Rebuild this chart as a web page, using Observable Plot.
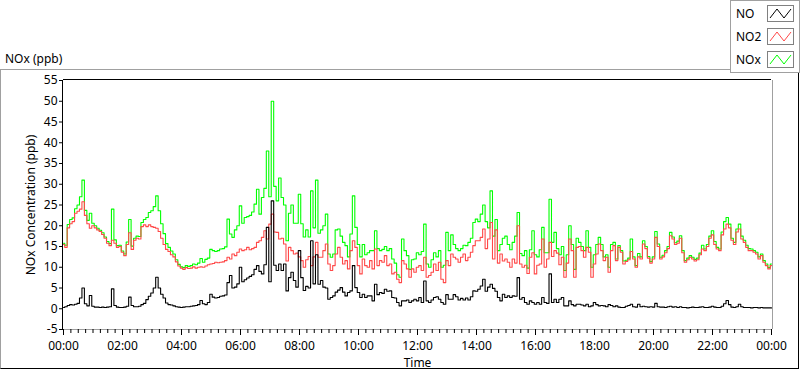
<!DOCTYPE html>
<html>
<head>
<meta charset="utf-8">
<script src="https://cdn.jsdelivr.net/npm/d3@7"></script>
<script src="https://cdn.jsdelivr.net/npm/@observablehq/plot@0.6"></script>
<style>
html,body{margin:0;padding:0;background:#fff;}
#wrap{position:relative;width:800px;height:369px;overflow:hidden;font-family:"Noto Sans",sans-serif;font-size:12px;color:#000;}
#panel{position:absolute;left:0;top:69px;width:799px;height:300px;box-sizing:border-box;border-top:1px solid #a0a0a0;border-left:1px solid #a0a0a0;border-right:1px solid #000;border-bottom:1px solid #000;}
#title{position:absolute;left:5px;top:51px;line-height:16px;white-space:nowrap;}
#legend{position:absolute;left:730px;top:0;width:70px;height:73px;box-sizing:border-box;border:1px solid #a0a0a0;background:#fff;z-index:2;}
.row{position:absolute;left:5px;width:60px;height:17px;}
.row span{position:absolute;left:0;top:0;line-height:17px;}
.row svg{position:absolute;left:31px;top:0;}
#chart{position:absolute;left:0;top:70px;z-index:1;}
</style>
</head>
<body>
<div id="wrap">
  <div id="panel"></div>
  <div id="title">NOx (ppb)</div>
  <div id="legend"></div>
  <div id="chart"></div>
</div>
<script>
// ---- data (5-minute readings, 00:00 to 24:00) ----
const startTime = new Date(2000, 0, 1, 0, 0);
const stepMinutes = 5;

const NO = [
0.3,0.5,0.8,1.0,0.9,1.1,1.3,2.6,5.0,1.2,
0.7,3.2,0.6,0.4,0.4,0.3,0.4,0.3,0.4,0.5,
4.8,0.8,0.4,0.3,0.3,0.4,0.6,2.8,0.8,0.5,
0.5,0.6,1.0,1.3,2.2,3.0,3.8,5.0,7.6,5.0,
3.5,2.6,1.4,1.0,0.9,0.7,0.5,0.4,0.3,0.4,
0.5,0.5,0.6,0.7,0.8,1.0,2.0,1.2,1.0,1.5,
3.5,2.8,2.6,2.7,3.0,3.1,3.3,6.3,8.0,5.0,
5.2,6.0,10.0,6.5,7.0,7.4,7.8,8.2,9.5,10.4,
9.0,8.4,10.6,19.6,6.5,26.0,10.5,9.2,10.8,9.2,
10.8,4.3,7.5,8.8,6.8,5.2,14.0,7.5,4.4,5.4,
5.0,16.4,6.0,13.0,5.9,6.8,5.2,5.0,2.3,2.7,
3.1,4.0,4.5,5.1,4.0,3.1,3.9,4.3,10.4,5.1,
3.9,2.7,3.5,2.7,3.1,3.1,1.9,5.9,3.4,3.9,
3.7,4.7,4.2,4.3,2.7,2.6,1.5,0.7,1.9,1.9,
2.1,1.5,1.9,2.3,1.9,2.7,1.5,6.7,1.9,1.5,
2.1,2.7,2.9,2.3,1.5,1.1,3.4,2.3,2.3,3.4,
2.9,2.1,2.5,2.1,2.6,2.1,2.9,4.3,4.2,4.7,
5.5,7.1,4.2,5.2,5.9,4.9,4.2,2.7,1.9,3.5,
2.7,3.1,2.7,3.1,3.0,7.5,2.3,2.7,1.5,1.1,
1.9,1.5,1.1,1.5,1.1,2.7,1.5,1.3,8.4,1.5,
2.3,1.5,2.3,2.7,0.7,0.7,1.9,1.0,0.7,1.1,
1.1,0.9,0.7,1.1,0.5,0.7,1.5,1.0,0.7,0.8,
0.7,0.5,1.0,0.8,0.5,0.7,0.4,0.3,0.3,0.6,
0.8,1.1,0.5,0.4,1.1,0.5,0.6,0.5,0.4,0.5,
0.4,1.3,0.5,0.4,0.4,0.3,0.5,0.6,0.4,0.5,
0.3,0.5,0.3,0.3,0.2,0.3,0.4,0.3,0.3,0.4,
0.5,0.3,0.3,0.4,0.6,0.4,0.3,0.3,0.6,1.2,
2.0,1.0,0.4,0.3,0.5,1.1,0.5,0.3,0.3,0.3,
0.2,0.3,0.3,0.2,0.3,0.2,0.2,0.2,0.2
];

const NO2 = [
15.5,14.8,19.5,20.5,21.0,23.0,23.5,24.0,25.8,22.5,
20.5,19.4,20.0,19.5,19.0,18.6,17.9,17.0,15.8,15.2,
16.5,15.8,14.8,15.0,13.6,12.8,15.5,18.3,14.3,16.5,
17.0,16.8,19.8,20.2,19.8,20.2,19.8,19.6,19.4,18.6,
17.0,15.5,14.3,13.8,13.0,12.5,11.3,10.3,9.8,9.5,
9.9,9.7,9.8,10.1,9.8,10.0,10.1,10.0,10.3,10.6,
10.8,10.9,11.2,11.1,11.2,11.3,11.6,12.4,12.0,13.2,
12.8,13.6,14.4,14.0,14.2,14.8,14.2,14.5,14.8,16.0,
16.4,17.2,18.8,16.8,20.4,22.8,18.5,18.4,16.8,17.0,
15.6,11.5,14.8,14.0,13.2,13.4,12.5,11.6,10.0,11.8,
12.6,10.4,12.5,16.0,12.4,12.4,14.0,15.6,10.8,9.2,
10.4,13.2,14.8,12.4,10.8,11.6,9.6,14.0,16.4,14.8,
10.4,8.4,12.0,10.4,10.0,11.6,9.6,14.4,10.4,11.6,
11.2,12.8,10.4,10.8,8.4,8.8,7.1,6.3,11.6,10.8,
9.6,7.6,9.6,8.8,10.0,10.4,9.2,12.4,7.6,8.0,
8.8,10.8,9.2,11.2,7.1,6.3,11.6,10.4,13.2,12.4,
12.0,11.2,12.4,13.2,11.6,12.4,13.6,15.2,16.4,16.4,
17.2,19.2,14.5,16.8,20.8,12.0,19.0,11.0,13.2,11.5,
12.0,11.2,10.0,12.0,11.0,20.0,10.8,10.0,10.5,8.5,
12.4,13.5,8.4,10.5,10.8,16.8,10.0,12.0,16.0,12.6,
14.0,13.4,10.6,12.4,7.6,11.0,16.8,14.0,7.6,14.8,
15.0,14.0,12.4,14.8,13.6,7.6,10.8,13.2,15.6,14.0,
11.6,12.4,8.8,14.0,15.2,11.6,14.8,13.6,10.8,11.4,
11.8,13.8,12.0,10.0,12.5,12.0,15.6,14.5,12.2,11.0,
12.0,17.2,15.0,12.0,12.5,13.5,14.5,17.6,16.8,15.5,
15.8,17.0,13.5,11.2,11.8,12.4,12.0,11.5,11.8,13.0,
14.4,14.0,15.0,17.0,17.8,15.5,14.4,14.0,17.8,19.2,
20.4,19.5,16.5,15.5,18.5,19.2,16.8,16.0,14.8,14.0,
14.0,13.6,13.2,12.0,12.8,11.2,10.4,9.6,10.4
];

const NOx = [
15.8,15.3,20.3,21.5,21.9,24.1,25.0,27.0,31.0,23.7,
21.3,23.0,20.6,20.0,19.4,18.9,18.3,17.3,16.2,15.7,
24.0,16.6,15.2,15.3,13.9,13.2,16.1,21.5,15.1,17.0,
17.5,17.4,20.8,21.5,22.0,23.2,23.6,24.6,27.2,23.6,
20.5,18.1,15.7,14.8,13.9,13.2,11.8,10.7,10.1,9.9,
10.4,10.2,10.4,10.8,10.6,11.0,12.1,11.2,11.9,12.2,
14.3,14.0,13.8,14.0,14.4,14.5,14.9,21.6,18.0,17.2,
19.0,20.0,24.8,20.6,22.0,22.2,22.5,23.3,25.2,28.8,
22.8,26.8,29.0,38.0,27.0,50.0,29.5,26.0,31.5,26.8,
25.0,16.4,23.0,25.0,20.6,20.6,27.6,20.5,17.3,19.0,
17.3,28.4,19.5,31.0,18.2,19.0,20.0,22.8,13.2,12.4,
13.2,19.0,19.2,17.5,16.0,15.2,12.5,18.0,27.2,19.6,
15.5,12.5,15.5,13.0,13.5,14.0,14.0,18.8,14.5,14.0,
14.3,15.0,14.0,14.5,12.0,11.0,8.2,7.6,16.8,14.0,
12.8,9.5,11.8,12.0,13.5,13.0,13.8,20.4,10.8,10.0,
11.8,13.5,12.5,14.0,10.0,10.5,18.4,14.0,17.8,15.5,
14.5,14.0,14.5,15.3,15.2,16.0,17.0,20.8,21.6,21.0,
22.8,25.0,21.0,19.5,28.4,17.5,21.5,14.0,15.5,17.0,
17.5,15.5,14.2,16.0,17.5,23.2,13.3,12.8,14.0,9.8,
14.2,18.8,13.0,12.5,14.2,19.6,13.5,13.5,26.4,16.0,
18.4,14.5,13.0,15.0,9.2,13.0,20.0,15.5,9.5,17.0,
16.0,15.0,14.0,18.8,14.8,10.0,13.0,15.5,17.2,15.5,
12.5,13.0,10.0,15.5,16.0,12.0,15.2,14.0,11.5,11.7,
12.2,16.8,12.5,10.4,13.3,12.5,16.4,15.0,12.6,11.4,
12.5,18.6,15.6,12.4,12.9,14.0,15.0,18.4,17.3,15.9,
16.3,17.6,14.0,11.6,12.2,12.8,12.4,11.9,12.2,13.4,
15.3,14.4,15.5,17.5,18.8,16.2,14.8,14.4,18.5,21.0,
22.0,20.4,17.0,16.0,19.2,20.4,17.5,16.5,15.3,14.5,
14.4,14.0,13.6,12.5,13.2,11.6,10.8,9.9,10.8
];

const seriesNames = ["NO", "NO2", "NOx"];
const seriesColors = ["#000000", "#ff4848", "#00ff00"];
const yTicks = [-5, 0, 5, 10, 15, 20, 25, 30, 35, 40, 45, 50, 55];
const yDomain = [-5, 55];
const xLabel = "Time";
const yLabel = "NOx Concentration (ppb)";

// ---- build ----
const endTime = d3.timeHour.offset(startTime, 24);
const times = NO.map((_, i) => d3.timeMinute.offset(startTime, i * stepMinutes));
const valuesBySeries = [NO, NO2, NOx];
const rows = valuesBySeries.map(vals => vals.map((v, i) => ({time: times[i], value: v})));
const majorTicks = d3.timeHour.every(2).range(startTime, d3.timeMinute.offset(endTime, 1));
const minorTicks = d3.timeMinute.every(15).range(startTime, d3.timeMinute.offset(endTime, 1));

// legend
const legend = document.getElementById("legend");
seriesNames.forEach((name, k) => {
  const row = document.createElement("div");
  row.className = "row";
  row.style.top = (4 + k * 23) + "px";
  row.innerHTML = `<span>${name}</span><svg width="27" height="17" viewBox="0 0 27 17">
    <rect x="0.5" y="0.5" width="26" height="16" fill="#fff" stroke="#808080"/>
    <polyline points="3,13 10,4 17,13 24,4" fill="none" stroke="${seriesColors[k]}" stroke-width="1"/></svg>`;
  legend.appendChild(row);
});

const lineOrder = [2, 1, 0]; // NOx under NO2 under NO
const chart = Plot.plot({
  width: 800,
  height: 299,
  marginLeft: 63,
  marginRight: 29,
  marginTop: 10,
  marginBottom: 40,
  style: {background: "transparent", fontFamily: "Noto Sans, sans-serif", fontSize: "12px", color: "#000", overflow: "visible"},
  x: {type: "time", domain: [startTime, endTime]},
  y: {domain: yDomain},
  marks: [
    ...lineOrder.map(k => Plot.line(rows[k], {x: "time", y: "value", stroke: seriesColors[k], strokeWidth: 1.1, curve: "step"})),
    Plot.ruleY([yDomain[1]], {stroke: "#000", dy: -1}),
    Plot.ruleX([startTime], {stroke: "#000", dx: -1}),
    Plot.ruleX([endTime], {stroke: "#a0a0a0", dx: 1}),
    Plot.ruleY([yDomain[0]], {stroke: "#a0a0a0"}),
    Plot.axisY(yTicks, {tickSize: 4, tickPadding: 2, tickFormat: d => String(d), label: yLabel, labelAnchor: "center", labelOffset: 37, labelArrow: "none"}),
    Plot.axisX(minorTicks, {tickSize: 4, tickFormat: () => "", label: null}),
    Plot.axisX(majorTicks, {tickSize: 6, tickPadding: 6, tickFormat: d3.timeFormat("%H:%M"), label: xLabel, labelAnchor: "center", labelOffset: 37, labelArrow: "none"})
  ]
});
document.getElementById("chart").appendChild(chart);
</script>
</body>
</html>
